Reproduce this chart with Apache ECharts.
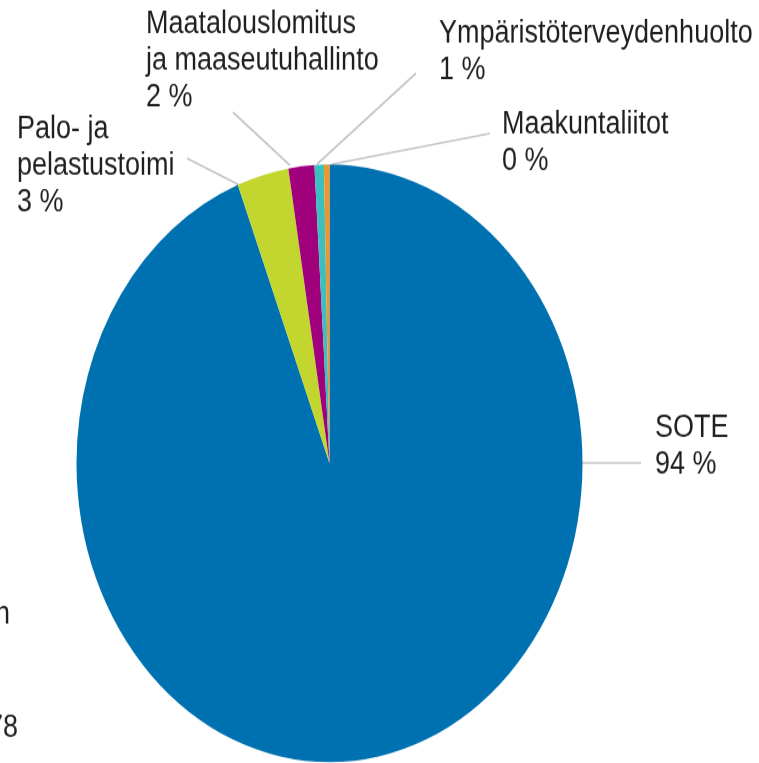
<!DOCTYPE html>
<html>
<head>
<meta charset="utf-8">
<script src="https://cdn.jsdelivr.net/npm/echarts@6/dist/echarts.min.js"></script>
<style>
  html, body { margin: 0; padding: 0; background: #fff; overflow: hidden; }
  #wrap { width: 759px; height: 763px; overflow: hidden; }
  /* the source picture is stretched vertically, so the whole chart is scaled */
  #chart { width: 759px; height: 647px; transform: scaleY(1.181); transform-origin: 0 0; }
</style>
</head>
<body>
<div id="wrap"><div id="chart"></div></div>
<script>
const categories = [
  'SOTE',
  'Palo- ja\npelastustoimi',
  'Maatalouslomitus\nja maaseutuhallinto',
  'Ympäristöterveydenhuolto',
  'Maakuntaliitot'
];
const shares = [94.1, 3.3, 1.65, 0.6, 0.35];
const colors = ['#0071b0', '#c3d52f', '#a1007d', '#3dbfbf', '#f0952c'];

// label placement (chart px, before the vertical stretch)
const labelPos = [
  { x: 655, y: 347, from: [568, 392], to: [641, 392] },
  { x: 17, y: 94, from: [247, 160], to: [187, 134] },
  { x: 146, y: 5, from: [290, 140], to: [233, 95] },
  { x: 439, y: 13, from: [317, 139], to: [416, 62] },
  { x: 502, y: 90, from: [332, 139], to: [490, 113] }
];

const chart = echarts.init(document.getElementById('chart'))
const font = { fontFamily: 'Liberation Sans', fontSize: 27, lineHeight: 31, color: '#1f1f1f' }

chart.setOption({
  animation: false,
  color: colors,
  series: [
    {
      type: 'pie',
      center: [329.5, 392.3],
      radius: 253,
      startAngle: 90,
      clockwise: true,
      avoidLabelOverlap: false,
      itemStyle: { borderWidth: 0 },
      label: {
        show: true,
        position: 'outside',
        ...font,
        formatter: (p) => p.name + '\n' + Math.round(p.percent) + ' %'
      },
      labelLine: {
        show: true,
        lineStyle: { color: '#c4c4c4', width: 1.6 }
      },
      labelLayout: (params) => {
        const L = labelPos[params.dataIndex]
        const mid = [(L.from[0] + L.to[0]) / 2, (L.from[1] + L.to[1]) / 2]
        return {
          x: L.x,
          y: L.y,
          align: 'left',
          verticalAlign: 'top',
          labelLinePoints: [L.from, mid, L.to]
        }
      },
      data: categories.map((name, i) => ({ name, value: shares[i] }))
    }
  ],
  graphic: [
    // text cut off at the left edge of the source picture
    { type: 'text', x: 10, y: 505, style: { text: 'n', align: 'right', verticalAlign: 'top', ...font, fill: '#1f1f1f' } },
    { type: 'text', x: 18, y: 601, style: { text: '78', align: 'right', verticalAlign: 'top', ...font, fill: '#1f1f1f' } }
  ]
})
</script>
</body>
</html>
